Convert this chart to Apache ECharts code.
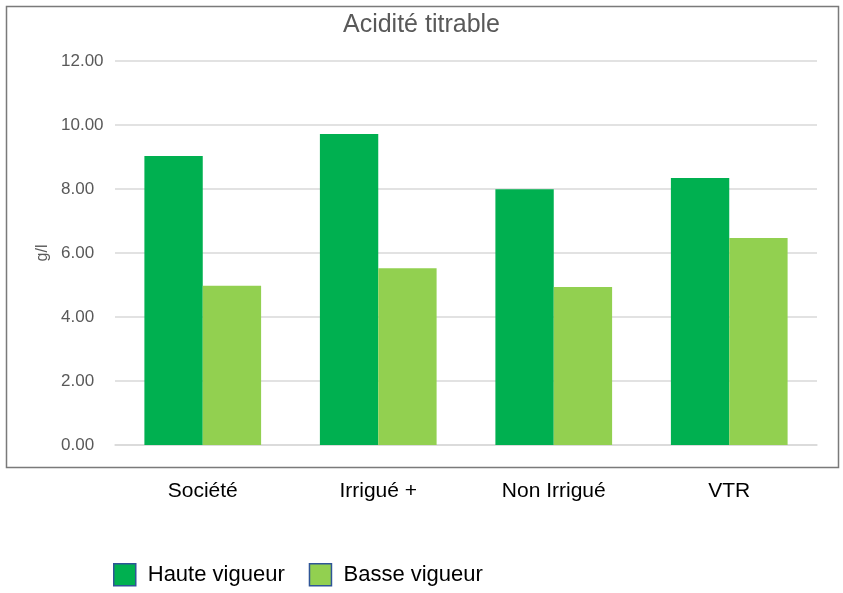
<!DOCTYPE html>
<html>
<head>
<meta charset="utf-8">
<script src="https://cdn.jsdelivr.net/npm/echarts@6/dist/echarts.min.js"></script>
<style>html,body{margin:0;padding:0;background:#fff}#c{width:843px;height:593px}</style>
</head>
<body>
<div id="c"></div>
<script>
const categories = ['Société', 'Irrigué +', 'Non Irrigué', 'VTR'];
const hauteVigueur = [9.03, 9.72, 7.99, 8.34];
const basseVigueur = [4.98, 5.52, 4.94, 6.47];
const seriesNames = ['Haute vigueur', 'Basse vigueur'];
const chartTitle = 'Acidité titrable';
const yName = 'g/l';

const font = '"Liberation Sans", Arial, sans-serif';
const chart = echarts.init(document.getElementById('c'), null, {renderer: 'canvas'});
chart.setOption({
  animation: false,
  textStyle: {fontFamily: font},
  title: {
    text: chartTitle, left: 'center', top: 8,
    textStyle: {fontFamily: font, fontSize: 25, fontWeight: 'normal', color: '#595959'}
  },
  graphic: [{
    type: 'rect', left: 4, top: 4, silent: true,
    shape: {width: 832, height: 461},
    style: {fill: 'none', stroke: '#7a7a7a', lineWidth: 1.5}
  }],
  grid: {left: 115, right: 26, top: 61, bottom: 148},
  legend: {
    left: 113, top: 563, padding: 0,
    itemWidth: 22, itemHeight: 22, itemGap: 24,
    icon: 'rect',
    data: [
      {name: seriesNames[0], itemStyle: {color: '#00B050', borderColor: '#2F5597', borderWidth: 1.5}},
      {name: seriesNames[1], itemStyle: {color: '#92D050', borderColor: '#2F5597', borderWidth: 1.5}}
    ],
    textStyle: {fontFamily: font, fontSize: 22, color: '#000', padding: [0, 0, 0, 7]}
  },
  xAxis: {
    type: 'category', data: categories,
    axisLine: {show: true, lineStyle: {color: '#d9d9d9', width: 1.5}},
    axisTick: {show: false},
    axisLabel: {fontFamily: font, fontSize: 21, color: '#000', margin: 36}
  },
  yAxis: {
    type: 'value', min: 0, max: 12, interval: 2,
    name: yName, nameLocation: 'middle', nameGap: 64, nameRotate: 90,
    nameTextStyle: {fontFamily: font, fontSize: 16, color: '#595959'},
    axisLine: {show: false}, axisTick: {show: false},
    splitLine: {lineStyle: {color: '#d9d9d9', width: 1.5}},
    axisLabel: {
      fontFamily: font, fontSize: 17, color: '#595959', align: 'left', margin: 54,
      formatter: v => v.toFixed(2)
    }
  },
  series: [
    {
      name: seriesNames[0], type: 'bar', data: hauteVigueur,
      barGap: '0%', barCategoryGap: '33.5%',
      itemStyle: {color: '#00B050'}
    },
    {
      name: seriesNames[1], type: 'bar', data: basseVigueur,
      barGap: '0%', barCategoryGap: '33.5%',
      itemStyle: {color: '#92D050'}
    }
  ]
});
</script>
</body>
</html>
